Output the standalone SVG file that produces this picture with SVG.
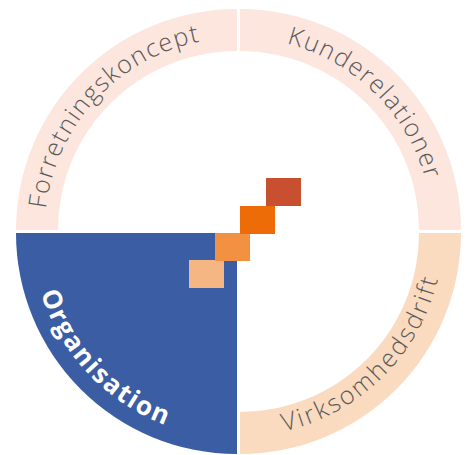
<svg xmlns="http://www.w3.org/2000/svg" width="470" height="455" viewBox="0 0 470 455">
<style>
.lbl{font-family:"Open Sans","Liberation Sans",sans-serif;font-weight:300;fill:#5a5a5a;}
.org{font-family:"Open Sans","Liberation Sans",sans-serif;font-weight:700;fill:#ffffff;}
</style>
<defs>
<path id="pTL" d="M 44.5 231.5 A 194 194 0 0 1 238.5 37.5"/>
<path id="pTR" d="M 238.5 37.5 A 194 194 0 0 1 432.5 231.5"/>
<path id="pBR" d="M 238.5 436.5 A 205 205 0 0 0 443.5 231.5"/>
<path id="pBL" d="M 31.5 231.5 A 207 207 0 0 0 238.5 438.5"/>
</defs>
<rect width="470" height="455" fill="#ffffff"/>
<g id="forretningskoncept">
<path d="M 16 230 A 221 221 0 0 1 237 9 L 237 51 A 179 179 0 0 0 58 230 Z" fill="#FCE6DE"/>
<text class="lbl" font-size="25" letter-spacing="1.4"><textPath href="#pTL" startOffset="47.5%" text-anchor="middle">Forretningskoncept</textPath></text>
</g>
<g id="kunderelationer">
<path d="M 240 9 A 221 221 0 0 1 461 230 L 419 230 A 179 179 0 0 0 240 51 Z" fill="#FCE6DE"/>
<text class="lbl" font-size="25" letter-spacing="1.5"><textPath href="#pTR" startOffset="49.5%" text-anchor="middle">Kunderelationer</textPath></text>
</g>
<g id="virksomhedsdrift">
<path d="M 461 233 A 221 221 0 0 1 240 454 L 240 412 A 179 179 0 0 0 419 233 Z" fill="#FADBC0"/>
<text class="lbl" font-size="25" letter-spacing="2.4"><textPath href="#pBR" startOffset="50%" text-anchor="middle">Virksomhedsdrift</textPath></text>
</g>
<g id="organisation">
<path d="M 237 233 L 237 454 A 221 221 0 0 1 16 233 Z" fill="#3B5DA4"/>
<text class="org" font-size="26" letter-spacing="1.7"><textPath href="#pBL" startOffset="48.3%" text-anchor="middle">Organisation</textPath></text>
</g>
<g id="steps">
<rect x="189" y="260" width="35" height="28" fill="#F5B684"/>
<rect x="215" y="233" width="35" height="28" fill="#F39143"/>
<rect x="240" y="206" width="35" height="28" fill="#ED6C08"/>
<rect x="266" y="178" width="35" height="28" fill="#C85031"/>
</g>
<g id="connectors"/>
</svg>
